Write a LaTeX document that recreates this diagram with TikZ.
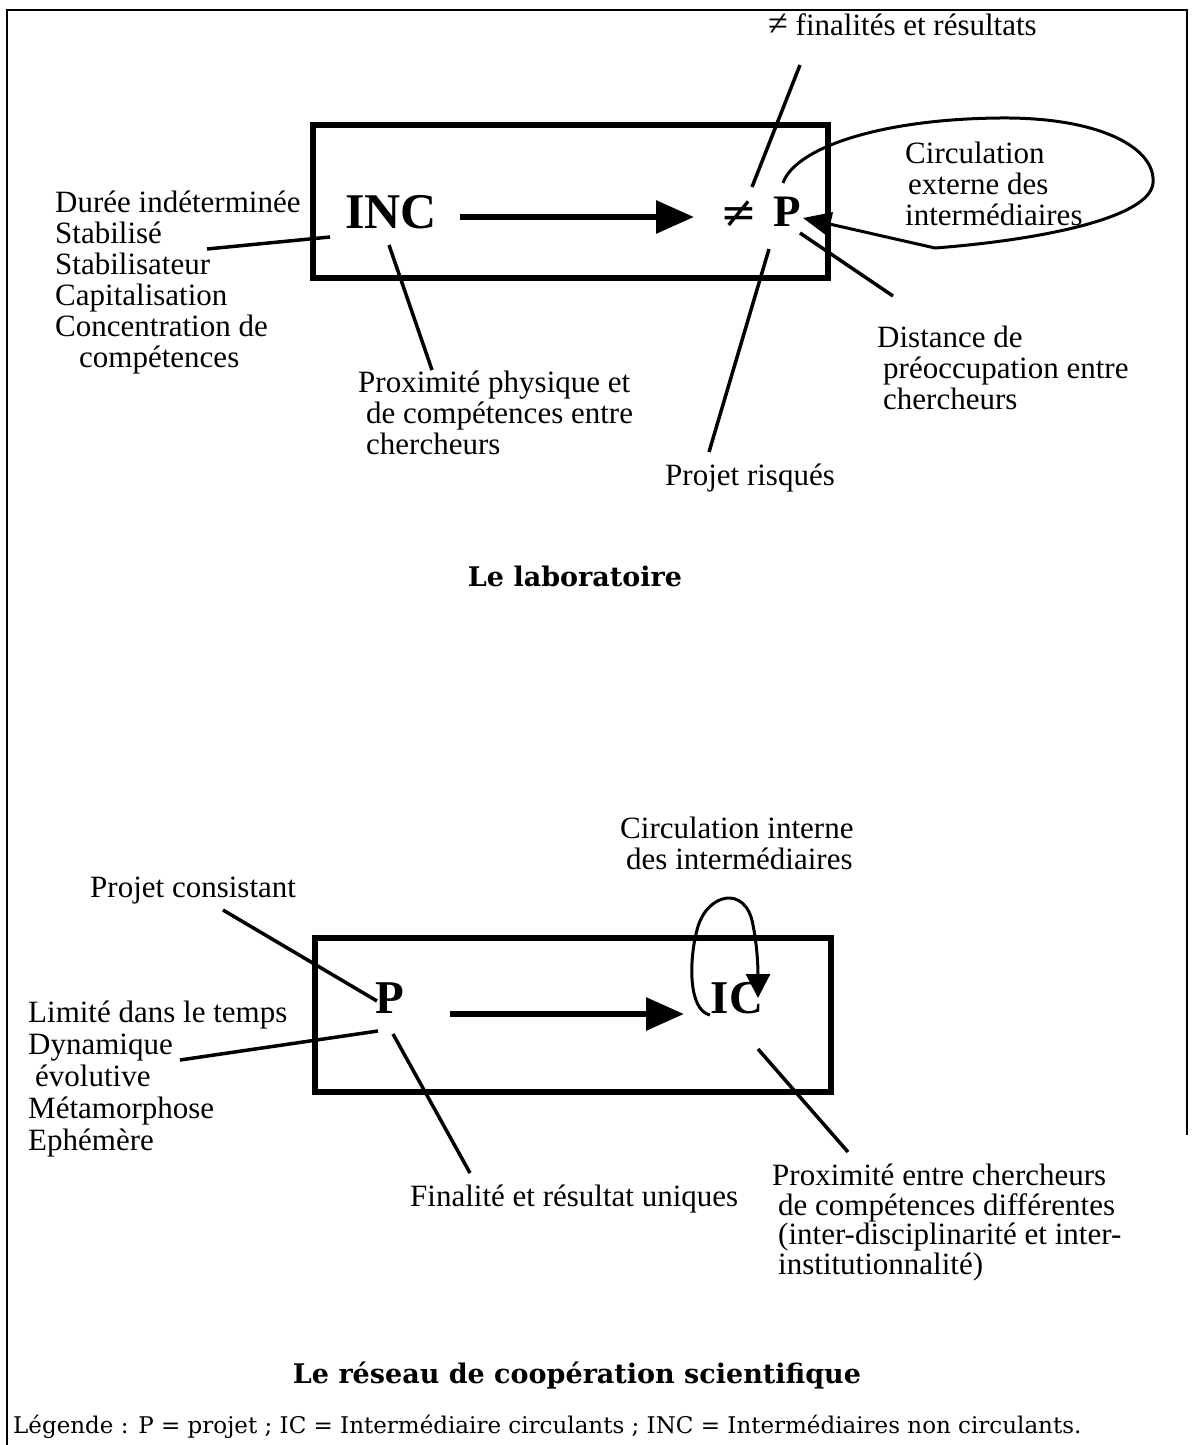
\documentclass[tikz,border=0pt]{standalone}
\usepackage{fontspec}
\setmainfont{Liberation Serif}
\newfontfamily\captionserif{DejaVu Serif}
\usetikzlibrary{arrows.meta}

\begin{document}
\begin{tikzpicture}[x=1pt,y=-1pt,
  lbl/.style={inner sep=0pt, anchor=north west, align=left,
              font=\fontsize{31}{31}\selectfont},
  keyword/.style={inner sep=0pt, font=\fontsize{50}{52}\selectfont\bfseries},
  heading/.style={inner sep=0pt, anchor=base,
                  font=\captionserif\fontsize{27}{29}\selectfont\bfseries},
  frame/.style={line width=2.5pt},
  panel/.style={line width=5.5pt},
  link/.style={line width=3.5pt},
  flow/.style={line width=6pt, -{Triangle[length=38pt,width=32pt]}},
  cycle/.style={line width=3pt}
]
\useasboundingbox (0,0) rectangle (1191,1445);

% outer frame
\draw[frame] (7,1445) -- (7,10) -- (1187,10) -- (1187,1135);

% ---------------- Le laboratoire ----------------
\draw[panel] (313,125) rectangle (828,278);
\node[keyword] (inc) at (391,212) {INC};
\node[keyword, font=\fontsize{45}{47}\selectfont\bfseries] (p1) at (787,212) {P};
\node[inner sep=0pt, font=\captionserif\fontsize{44}{46}\selectfont] (neq) at (739,214) {≠};
\coordinate (inc-e) at (460,217);
\coordinate (p1-w) at (694,217);
\draw[flow] (inc-e) -- (p1-w);

\node[lbl] (fin) at (768,13) {\fontsize{36}{31}\selectfont≠\fontsize{31}{31}\selectfont{} finalités et résultats};
\node[lbl] (stable) at (55,191) {Durée indéterminée\\Stabilisé\\Stabilisateur\\Capitalisation\\Concentration de\\\hspace*{24pt}compétences};
\node[lbl] (prox) at (358,371) {Proximité physique et\\\hspace*{8pt}de compétences entre\\\hspace*{8pt}chercheurs};
\node[lbl] (risk) at (665,464) {Projet risqués};
\node[lbl] (dist) at (877,326) {Distance de\\\hspace*{6pt}préoccupation entre\\\hspace*{6pt}chercheurs};
\node[lbl] (ext) at (905,142) {Circulation\\\hspace*{3pt}externe des\\intermédiaires};

\coordinate (stable-e) at (207,249);
\coordinate (inc-w) at (330,237);
\coordinate (inc-s) at (389,245);
\coordinate (prox-n) at (432,370);
\coordinate (fin-s) at (800,65);
\coordinate (p1-nw) at (752,187);
\coordinate (p1-s) at (769,249);
\coordinate (risk-n) at (709,452);
\coordinate (p1-se) at (800,233);
\coordinate (dist-n) at (893,296);
\coordinate (p1-ne) at (783,183);
\coordinate (p1-e) at (803,218);

\draw[link] (stable-e) -- (inc-w);
\draw[link] (inc-s) -- (prox-n);
\draw[link] (fin-s) -- (p1-nw);
\draw[link] (p1-s) -- (risk-n);
\draw[link] (p1-se) -- (dist-n);
\draw[cycle, -{Triangle[length=28pt,width=24pt]}]
  (p1-ne) .. controls (795,148) and (880,119) .. (1000,118)
          .. controls (1100,117) and (1156,148) .. (1153,183)
          .. controls (1150,218) and (1040,240) .. (935,248)
          -- (p1-e);

\node[heading] (lab) at (575,586) {Le laboratoire};

% ---------------- Le réseau de coopération scientifique ----------------
\draw[panel] (315,938) rectangle (831,1092);
\node[keyword, font=\fontsize{47}{49}\selectfont\bfseries] (p2) at (390,998) {P};
\node[keyword, font=\fontsize{47}{49}\selectfont\bfseries] (ic) at (737,998) {IC};
\coordinate (p2-e) at (450,1014);
\coordinate (ic-w) at (684,1014);
\draw[flow] (p2-e) -- (ic-w);

\node[lbl] (int) at (620,817) {Circulation interne\\\hspace*{6pt}des intermédiaires};
\node[lbl] (cons) at (90,877) {Projet consistant};
\node[lbl, font=\fontsize{31}{32}\selectfont] (ephem) at (28,1001) {Limité dans le temps\\Dynamique\\\hspace*{7pt}évolutive\\Métamorphose\\Ephémère};
\node[lbl] (uniq) at (410,1185) {Finalité et résultat uniques};
\node[lbl, font=\fontsize{31}{29.5}\selectfont] (diff) at (772,1164) {Proximité entre chercheurs\\\hspace*{6pt}de compétences différentes\\\hspace*{6pt}(inter-disciplinarité et inter-\\\hspace*{6pt}institutionnalité)};

\coordinate (cons-s) at (223,910);
\coordinate (p2-nw) at (377,1001);
\coordinate (ephem-e) at (180,1060);
\coordinate (p2-w) at (378,1031);
\coordinate (p2-s) at (393,1034);
\coordinate (uniq-n) at (470,1173);
\coordinate (ic-s) at (758,1049);
\coordinate (diff-n) at (848,1152);
\coordinate (ic-sw) at (710,1015);
\coordinate (ic-ne) at (758,998);

\draw[link] (cons-s) -- (p2-nw);
\draw[link] (ephem-e) -- (p2-w);
\draw[link] (p2-s) -- (uniq-n);
\draw[link] (ic-s) -- (diff-n);
\draw[cycle, -{Triangle[length=24pt,width=24pt]}]
  (ic-sw) .. controls (688,1010) and (689,960) .. (697,930)
          .. controls (706,893) and (746,884) .. (753,925)
          .. controls (757,945) and (758,965) .. (ic-ne);

\node[heading] (net) at (577,1383) {Le réseau de coopération scientifique};

\node[inner sep=0pt, anchor=base west, font=\captionserif\fontsize{23}{25}\selectfont] (legend) at (13,1433)
  {Légende : P = projet ; IC = Intermédiaire circulants ; INC = Intermédiaires non circulants.};
\end{tikzpicture}
\end{document}
